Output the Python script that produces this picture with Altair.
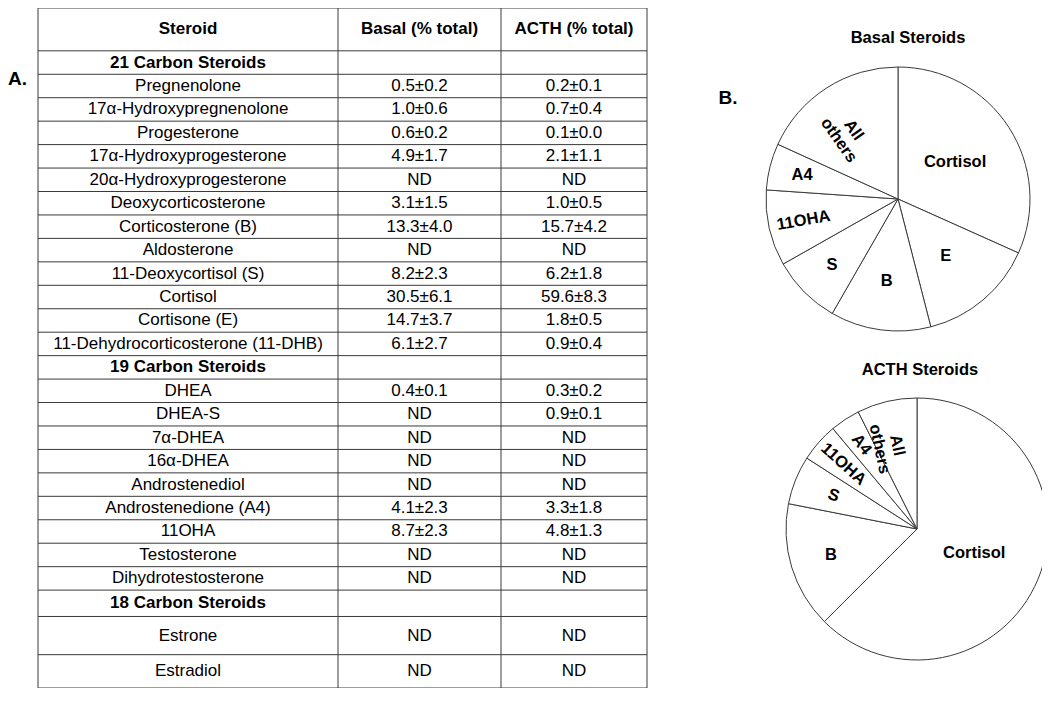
import altair as alt
import pandas as pd

# ---------------- data ----------------
header = ["Steroid", "Basal (% total)", "ACTH (% total)"]
section_titles = ["21 Carbon Steroids", "19 Carbon Steroids", "18 Carbon Steroids"]
steroids = [
    "21 Carbon Steroids",
    "Pregnenolone", "17α-Hydroxypregnenolone", "Progesterone", "17α-Hydroxyprogesterone",
    "20α-Hydroxyprogesterone", "Deoxycorticosterone", "Corticosterone (B)", "Aldosterone",
    "11-Deoxycortisol (S)", "Cortisol", "Cortisone (E)", "11-Dehydrocorticosterone (11-DHB)",
    "19 Carbon Steroids",
    "DHEA", "DHEA-S", "7α-DHEA", "16α-DHEA", "Androstenediol", "Androstenedione (A4)",
    "11OHA", "Testosterone", "Dihydrotestosterone",
    "18 Carbon Steroids",
    "Estrone", "Estradiol",
]
basal_mean = [None, 0.5, 1.0, 0.6, 4.9, None, 3.1, 13.3, None, 8.2, 30.5, 14.7, 6.1,
              None, 0.4, None, None, None, None, 4.1, 8.7, None, None, None, None, None]
basal_sd = [None, 0.2, 0.6, 0.2, 1.7, None, 1.5, 4.0, None, 2.3, 6.1, 3.7, 2.7,
            None, 0.1, None, None, None, None, 2.3, 2.3, None, None, None, None, None]
acth_mean = [None, 0.2, 0.7, 0.1, 2.1, None, 1.0, 15.7, None, 6.2, 59.6, 1.8, 0.9,
             None, 0.3, 0.9, None, None, None, 3.3, 4.8, None, None, None, None, None]
acth_sd = [None, 0.1, 0.4, 0.0, 1.1, None, 0.5, 4.2, None, 1.8, 8.3, 0.5, 0.4,
           None, 0.2, 0.1, None, None, None, 1.8, 1.3, None, None, None, None, None]

basal_parts = ["Cortisol", "E", "B", "S", "11OHA", "A4", "All others"]
basal_share = [31.7, 14.3, 12.3, 8.5, 9.3, 5.7, 18.2]
acth_parts = ["Cortisol", "B", "S", "11OHA", "A4", "All others"]
acth_share = [62.5, 15.6, 6.0, 4.8, 3.7, 7.4]

panel_titles = ["Basal Steroids", "ACTH Steroids"]
panel_letters = ["A.", "B."]

# ---------------- layout / style ----------------
FONT = "Liberation Sans"
LINE = "#3a3a3a"
W, H = 1034, 680
col_edges_px = [30, 330, 493, 639]
ref_bounds = [5, 48.7] + [48.7 + 23.93 * k for k in range(1, 24)] + [626, 665, 699]
row_edges_px = [(b - 5) * H / 694 for b in ref_bounds]

XS = alt.Scale(domain=list(range(len(col_edges_px))), range=col_edges_px, nice=False, zero=False)
YS = alt.Scale(domain=list(range(len(row_edges_px))), range=row_edges_px, nice=False, zero=False)

# ---------------- table ----------------
def fmt(m, s, title):
    if title:
        return ""
    if m is None:
        return "ND"
    return f"{m:.1f}±{s:.1f}"

cells = []
for j, h in enumerate(header):
    cells.append({"r": 0.5, "c": j + 0.5, "t": h, "bold": 1})
for i, name in enumerate(steroids):
    is_title = name in section_titles
    r = i + 1.5
    cells.append({"r": r, "c": 0.5, "t": name, "bold": 1 if is_title else 0})
    cells.append({"r": r, "c": 1.5, "t": fmt(basal_mean[i], basal_sd[i], is_title), "bold": 0})
    cells.append({"r": r, "c": 2.5, "t": fmt(acth_mean[i], acth_sd[i], is_title), "bold": 0})
cells_df = pd.DataFrame(cells)

hlines = pd.DataFrame({"b": list(range(len(row_edges_px))), "x0": 0, "x1": len(col_edges_px) - 1})
vlines = pd.DataFrame({"c": list(range(len(col_edges_px))), "y0": 0, "y1": len(row_edges_px) - 1})

h_rules = alt.Chart(hlines).mark_rule(color=LINE, strokeWidth=1).encode(
    y=alt.Y("b:Q", scale=YS, axis=None),
    x=alt.X("x0:Q", scale=XS, axis=None),
    x2="x1:Q",
)
v_rules = alt.Chart(vlines).mark_rule(color=LINE, strokeWidth=1).encode(
    x=alt.X("c:Q", scale=XS, axis=None),
    y=alt.Y("y0:Q", scale=YS, axis=None),
    y2="y1:Q",
)
txt_normal = alt.Chart(cells_df[cells_df.bold == 0]).mark_text(
    font=FONT, fontSize=17, color="black", align="center", baseline="middle"
).encode(
    x=alt.X("c:Q", scale=XS, axis=None),
    y=alt.Y("r:Q", scale=YS, axis=None),
    text="t:N",
)
txt_bold = alt.Chart(cells_df[cells_df.bold == 1]).mark_text(
    font=FONT, fontSize=17, fontWeight="bold", color="black", align="center", baseline="middle"
).encode(
    x=alt.X("c:Q", scale=XS, axis=None),
    y=alt.Y("r:Q", scale=YS, axis=None),
    text="t:N",
)

# ---------------- pies ----------------
basal_label_r = {"Cortisol": 68, "E": 74, "B": 83, "S": 93, "11OHA": 97, "A4": 99, "All others": 82}
basal_label_rot = {"11OHA": -10, "All others": 55}
acth_label_r = {"Cortisol": 62, "B": 90, "S": 90, "11OHA": 98, "A4": 101, "All others": 86}
acth_label_rot = {"S": 20, "11OHA": 42, "A4": 52, "All others": 78}

FRAC = alt.Scale(domain=[0, 1])


def pie(parts, shares, lr, rot, cx, cy, radius):
    df = pd.DataFrame({
        "part": parts,
        "share": shares,
        "order": list(range(len(parts))),
        "lr": [lr[p] for p in parts],
        "rot": [rot.get(p, 0) for p in parts],
    })
    base = alt.Chart(df).transform_window(
        cum="sum(share)", sort=[alt.SortField("order")], frame=[None, 0]
    ).transform_joinaggregate(
        total="sum(share)"
    ).transform_calculate(
        f0="(datum.cum - datum.share) / datum.total",
        f1="datum.cum / datum.total",
        fm="(datum.cum - datum.share / 2) / datum.total",
    )
    arc = base.mark_arc(radius=radius, fill="white", stroke=LINE, strokeWidth=1).encode(
        theta=alt.Theta("f0:Q", scale=FRAC),
        theta2="f1:Q",
        x=alt.value(cx),
        y=alt.value(cy),
    )
    lab = base.mark_text(
        font=FONT, fontSize=16.5, fontWeight="bold", color="black",
        align="center", baseline="middle", lineBreak=" ", lineHeight=18,
    ).encode(
        theta=alt.Theta("fm:Q", scale=FRAC),
        radius=alt.Radius("lr:Q", scale=None),
        angle=alt.Angle("rot:Q", scale=None),
        text="part:N",
        x=alt.value(cx),
        y=alt.value(cy),
    )
    return alt.layer(arc, lab)


pie_basal = pie(basal_parts, basal_share, basal_label_r, basal_label_rot, 890, 191, 132)
pie_acth = pie(acth_parts, acth_share, acth_label_r, acth_label_rot, 909, 521, 131)


def label(text, x, y, size, align="center"):
    return alt.Chart(pd.DataFrame({"t": [text]})).mark_text(
        font=FONT, fontSize=size, fontWeight="bold", color="black",
        align=align, baseline="middle",
    ).encode(text="t:N", x=alt.value(x), y=alt.value(y))


t_basal = label(panel_titles[0], 900, 30, 16.5)
t_acth = label(panel_titles[1], 912, 362, 16.5)
l_a = label(panel_letters[0], 0, 71, 19, align="left")
l_b = label(panel_letters[1], 720, 90, 19)

chart = alt.layer(
    h_rules, v_rules, txt_normal, txt_bold,
    pie_basal, pie_acth,
    t_basal, t_acth, l_a, l_b,
).properties(
    width=W, height=H, padding=0,
    autosize=alt.AutoSizeParams(type="none"),
).configure_view(stroke=None)

chart.save("out.html", embed_options={"renderer": "svg", "actions": False})
